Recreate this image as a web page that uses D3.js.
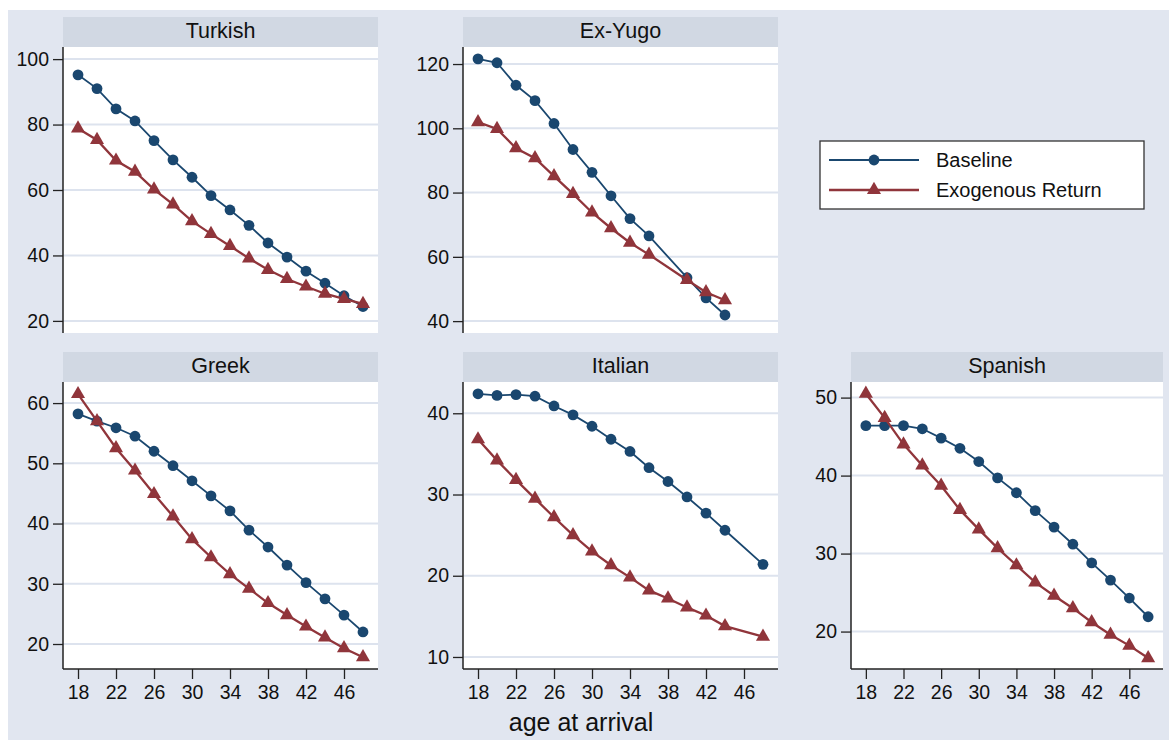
<!DOCTYPE html>
<html>
<head>
<meta charset="utf-8">
<script src="https://cdn.jsdelivr.net/npm/d3@7"></script>
<style>
  html, body { margin: 0; padding: 0; background: #fff; }
  svg { display: block; font-family: "Liberation Sans", Arial, sans-serif; }
</style>
</head>
<body>
<svg id="chart" width="1169" height="740"></svg>
<script>
// ages at arrival (some panels skip one age)
const agesAll = [18, 20, 22, 24, 26, 28, 30, 32, 34, 36, 38, 40, 42, 44, 46, 48];
const agesYugo = [18, 20, 22, 24, 26, 28, 30, 32, 34, 36, 40, 42, 44];
const agesItalian = [18, 20, 22, 24, 26, 28, 30, 32, 34, 36, 38, 40, 42, 44, 48];

const turkishBase = [95.2, 91.0, 84.8, 81.1, 75.1, 69.2, 63.9, 58.3, 53.9, 49.2, 43.8, 39.5, 35.2, 31.5, 27.7, 24.4];
const turkishExo  = [78.8, 75.3, 69.0, 65.6, 60.2, 55.6, 50.5, 46.6, 42.9, 39.1, 35.6, 32.8, 30.5, 28.3, 26.7, 25.2];
const yugoBase = [121.6, 120.4, 113.4, 108.6, 101.5, 93.4, 86.3, 79.0, 71.9, 66.5, 53.5, 47.2, 41.9];
const yugoExo  = [101.9, 99.8, 93.8, 90.7, 85.1, 79.6, 73.8, 68.9, 64.4, 60.7, 52.8, 49.0, 46.5];
const greekBase = [58.2, 57.0, 55.9, 54.5, 52.0, 49.6, 47.1, 44.6, 42.1, 38.9, 36.1, 33.1, 30.2, 27.5, 24.8, 22.0];
const greekExo  = [61.5, 57.0, 52.5, 48.8, 44.9, 41.2, 37.4, 34.4, 31.6, 29.2, 26.8, 24.8, 22.9, 21.1, 19.3, 17.8];
const italianBase = [42.4, 42.2, 42.3, 42.1, 40.9, 39.8, 38.4, 36.8, 35.3, 33.3, 31.6, 29.7, 27.7, 25.6, 21.4];
const italianExo  = [36.8, 34.2, 31.8, 29.5, 27.2, 25.0, 23.0, 21.3, 19.8, 18.2, 17.2, 16.1, 15.1, 13.8, 12.5];
const spanishBase = [46.4, 46.4, 46.4, 46.0, 44.8, 43.5, 41.8, 39.7, 37.8, 35.5, 33.4, 31.2, 28.8, 26.6, 24.3, 21.9];
const spanishExo  = [50.5, 47.4, 44.0, 41.3, 38.7, 35.6, 33.1, 30.7, 28.5, 26.3, 24.6, 23.0, 21.2, 19.6, 18.2, 16.6];

const xTicks = [18, 22, 26, 30, 34, 38, 42, 46];
const seriesNames = ["Baseline", "Exogenous Return"];

const panels = [
    { name: "Turkish", ages: agesAll, base: turkishBase, exo: turkishExo, yTicks: [20, 40, 60, 80, 100], yDom: [16.3, 103.7], col: 0, row: 0 },
    { name: "Ex-Yugo", ages: agesYugo, base: yugoBase, exo: yugoExo, yTicks: [40, 60, 80, 100, 120], yDom: [36.3, 125.3], col: 1, row: 0 },
    { name: "Greek", ages: agesAll, base: greekBase, exo: greekExo, yTicks: [20, 30, 40, 50, 60], yDom: [15.85, 63.5], col: 0, row: 1 },
    { name: "Italian", ages: agesItalian, base: italianBase, exo: italianExo, yTicks: [10, 20, 30, 40], yDom: [8.52, 43.85], col: 1, row: 1 },
    { name: "Spanish", ages: agesAll, base: spanishBase, exo: spanishExo, yTicks: [20, 30, 40, 50], yDom: [15.2, 52.0], col: 2, row: 1 }
];

const BLUE = "#1a476f", RED = "#90353b";
const colLeft = [63, 463, 851], colWidth = [315, 315, 312];
const rowTop = [17, 352], stripH = 30, plotH = [286, 287];

const svg = d3.select("#chart");
svg.append("rect").attr("x", 8).attr("y", 10).attr("width", 1161).attr("height", 730).attr("fill", "#e1e6f0");

const line = d3.line();
const tri = d3.symbol().type(d3.symbolTriangle).size(86);

panels.forEach(p => {
    const left = colLeft[p.col], w = colWidth[p.col];
    const top = rowTop[p.row] + stripH, h = plotH[p.row];
    const x = d3.scaleLinear().domain([16.42, 49.58]).range([left, left + w]);
    const y = d3.scaleLinear().domain(p.yDom).range([top + h, top]);
    const g = svg.append("g");

    // strip title
    g.append("rect").attr("x", left).attr("y", rowTop[p.row]).attr("width", w).attr("height", stripH).attr("fill", "#d1d8e3");
    g.append("text").attr("x", left + w / 2).attr("y", rowTop[p.row] + stripH / 2 + 5.5)
        .attr("text-anchor", "middle").attr("font-size", 21.5).attr("fill", "#111").text(p.name);

    g.append("rect").attr("x", left).attr("y", top).attr("width", w).attr("height", h).attr("fill", "#fff");

    // grid
    g.selectAll(".grid").data(p.yTicks).join("line")
        .attr("x1", left).attr("x2", left + w).attr("y1", d => y(d)).attr("y2", d => y(d))
        .attr("stroke", "#dde3ee").attr("stroke-width", 2);

    // y axis
    const ya = g.append("g").attr("transform", `translate(${left},0)`)
        .call(d3.axisLeft(y).tickValues(p.yTicks).tickSize(10).tickPadding(4).tickFormat(d3.format("d")));
    ya.select(".domain").remove();
    ya.selectAll(".tick line").attr("stroke", "#222").attr("stroke-width", 1.3);
    ya.selectAll(".tick text").attr("font-size", 19.5).attr("fill", "#111").attr("font-family", null);
    g.append("line").attr("x1", left).attr("x2", left).attr("y1", top).attr("y2", top + h)
        .attr("stroke", "#222").attr("stroke-width", 1.5);

    // x axis on the bottom row only
    if (p.row === 1) {
        const xa = g.append("g").attr("transform", `translate(0,${top + h})`)
            .call(d3.axisBottom(x).tickValues(xTicks).tickSize(10).tickPadding(6));
        xa.select(".domain").remove();
        xa.selectAll(".tick line").attr("stroke", "#222").attr("stroke-width", 1.3);
        xa.selectAll(".tick text").attr("font-size", 19.5).attr("fill", "#111").attr("font-family", null);
        g.append("line").attr("x1", left).attr("x2", left + w).attr("y1", top + h).attr("y2", top + h)
            .attr("stroke", "#222").attr("stroke-width", 1.5);
    }

    const basePts = p.ages.map((a, i) => [x(a), y(p.base[i])]);
    const exoPts = p.ages.map((a, i) => [x(a), y(p.exo[i])]);

    g.append("path").attr("d", line(basePts)).attr("fill", "none").attr("stroke", BLUE).attr("stroke-width", 1.8);
    g.selectAll(".dot").data(basePts).join("circle")
        .attr("cx", d => d[0]).attr("cy", d => d[1]).attr("r", 5.4).attr("fill", BLUE);
    g.append("path").attr("d", line(exoPts)).attr("fill", "none").attr("stroke", RED).attr("stroke-width", 2.3);
    g.selectAll(".tri").data(exoPts).join("path")
        .attr("transform", d => `translate(${d[0]},${d[1]})`).attr("d", tri).attr("fill", RED);
});

// legend
const lg = svg.append("g");
lg.append("rect").attr("x", 820).attr("y", 141).attr("width", 324).attr("height", 68)
    .attr("fill", "#fff").attr("stroke", "#333").attr("stroke-width", 1.3);
seriesNames.forEach((name, i) => {
    const yy = 160 + i * 30;
    const col = i === 0 ? BLUE : RED;
    lg.append("line").attr("x1", 829).attr("x2", 919).attr("y1", yy).attr("y2", yy)
        .attr("stroke", col).attr("stroke-width", i === 0 ? 1.8 : 2.3);
    if (i === 0) lg.append("circle").attr("cx", 874).attr("cy", yy).attr("r", 5.4).attr("fill", col);
    else lg.append("path").attr("transform", `translate(874,${yy})`).attr("d", tri).attr("fill", col);
    lg.append("text").attr("x", 936).attr("y", yy + 7).attr("font-size", 20).attr("fill", "#111").text(name);
});

svg.append("text").attr("x", 581).attr("y", 731).attr("text-anchor", "middle")
    .attr("font-size", 25).attr("fill", "#111").text("age at arrival");
</script>
</body>
</html>
